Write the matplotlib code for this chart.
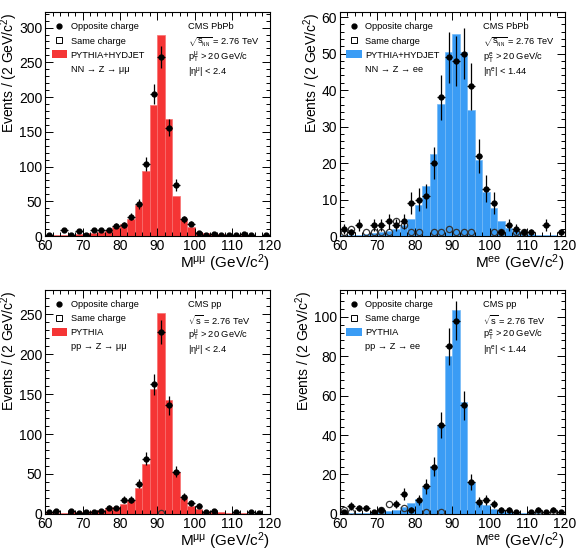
import numpy as np
import matplotlib.pyplot as plt
from matplotlib.lines import Line2D
from matplotlib.patches import Patch
from matplotlib.ticker import MultipleLocator

plt.rcParams['font.family'] = ['Liberation Sans', 'DejaVu Sans']
plt.rcParams['mathtext.fontset'] = 'custom'
plt.rcParams['mathtext.rm'] = 'Liberation Sans'
plt.rcParams['mathtext.it'] = 'Liberation Sans'

# 2 GeV bins from 60 to 120
edges = np.arange(60, 121, 2)
centers = edges[:-1] + 1

# PbPb, Z -> mumu
mc_pbpb_mm = [1, 1, 1.5, 2, 3, 4, 5, 6, 8, 13, 18, 24, 45, 94, 188,
              289, 168, 57, 25, 13, 6, 5, 3, 2.5, 2, 1.5, 1, 1, 0.5, 0.5]
os_pbpb_mm = [1, 0, 8, 2, 7, 2, 9, 9, 9, 15, 16, 28, 46, 104, 205,
              258, 156, 74, 24, 18, 5, 2, 3, 2, 2, 2, 3, 2, 0, 1]
ss_pbpb_mm = [0] * 30

# PbPb, Z -> ee
mc_pbpb_ee = [0.3, 0.3, 0.3, 0.5, 0.7, 1, 1.3, 1.8, 2.9, 4.8, 8.5, 13.7, 22.4, 36.1, 50.5,
              55.4, 50.3, 34.5, 20.8, 12.2, 7.6, 4.0, 2.3, 1.5, 1, 0.6, 0.4, 0.3, 0.2, 0.1]
os_pbpb_ee = [2, 1, 3, 0, 3, 3, 4, 3, 4, 9, 10, 11, 20, 38, 49,
              48, 50, 41, 22, 13, 9, 1, 3, 2, 1, 1, 0, 3, 0, 1]
ss_pbpb_ee = [1, 2, 0, 1, 1, 1, 1, 4, 3, 1, 1, 0, 1, 1, 2,
              1, 1, 1, 0, 0, 1, 1, 0, 1, 1, 0, 0, 0, 0, 0]

# pp, Z -> mumu
mc_pp_mm = [1, 1, 1.5, 2, 2.5, 3, 4, 5, 7, 9, 12, 18, 33, 62, 156,
            251, 143, 52, 20, 10, 6, 4, 3, 2, 1.5, 1, 1, 0.5, 0.5, 0.3]
os_pp_mm = [3, 4, 0, 4, 1, 2, 3, 4, 8, 7, 18, 18, 38, 69, 162,
            228, 136, 53, 21, 14, 10, 3, 4, 0, 0, 3, 0, 2, 1, 0]
ss_pp_mm = [0] * 15 + [1] + [0] * 14

# pp, Z -> ee
mc_pp_ee = [0.3, 0.3, 0.5, 0.6, 0.8, 1.2, 1.5, 2.2, 3.4, 5.5, 7.5, 13.5, 24.3, 45, 80,
            103.4, 57, 16, 6, 4.5, 2.5, 1.5, 1, 0.7, 0.5, 0.4, 0.3, 0.2, 0.2, 0.1]
os_pp_ee = [1, 4, 3, 3, 1, 2, 0, 5, 10, 2, 7, 14, 24, 45, 85,
            98, 55, 16, 6, 7, 5, 2, 2, 1, 0, 1, 2, 1, 2, 1]
ss_pp_ee = [2, 1, 0, 0, 0, 2, 5, 0, 3, 0, 0, 1, 0, 1, 0,
            0, 0, 0, 0, 0, 0, 0, 0, 0, 0, 0, 1, 0, 1, 0]

red = '#f53535'
red_edge = '#f87070'
blue = '#3a9cf5'
blue_edge = '#74b9f7'

panels = [
    dict(mc=mc_pbpb_mm, os=os_pbpb_mm, ss=ss_pbpb_mm, col=red, edge=red_edge, ymax=322, major=50,
         mclabel='PYTHIA+HYDJET', proc='NN → Z → μμ',
         info=['CMS PbPb', r'$\sqrt{s_{_{\mathrm{NN}}}}$ = 2.76 TeV', r'p$_{\mathrm{T}}^{\mathrm{μ}}$ > 20 GeV/c',
               r'|η$^{\mathrm{μ}}$| < 2.4'],
         xlab=r'M$^{\mathrm{μμ}}$ (GeV/c$^{2}$)', pos=[0.0775, 0.577, 0.387, 0.401]),
    dict(mc=mc_pbpb_ee, os=os_pbpb_ee, ss=ss_pbpb_ee, col=blue, edge=blue_edge, ymax=61.3, major=10,
         mclabel='PYTHIA+HYDJET', proc='NN → Z → ee',
         info=['CMS PbPb', r'$\sqrt{s_{_{\mathrm{NN}}}}$ = 2.76 TeV', r'p$_{\mathrm{T}}^{\mathrm{e}}$ > 20 GeV/c',
               r'|η$^{\mathrm{e}}$| < 1.44'],
         xlab=r'M$^{\mathrm{ee}}$ (GeV/c$^{2}$)', pos=[0.585, 0.577, 0.387, 0.401]),
    dict(mc=mc_pp_mm, os=os_pp_mm, ss=ss_pp_mm, col=red, edge=red_edge, ymax=280, major=50,
         mclabel='PYTHIA', proc='pp → Z → μμ',
         info=['CMS pp', r'$\sqrt{\mathrm{s}}$ = 2.76 TeV', r'p$_{\mathrm{T}}^{\mathrm{μ}}$ > 20 GeV/c',
               r'|η$^{\mathrm{μ}}$| < 2.4'],
         xlab=r'M$^{\mathrm{μμ}}$ (GeV/c$^{2}$)', pos=[0.0775, 0.079, 0.387, 0.401]),
    dict(mc=mc_pp_ee, os=os_pp_ee, ss=ss_pp_ee, col=blue, edge=blue_edge, ymax=113.5, major=20,
         mclabel='PYTHIA', proc='pp → Z → ee',
         info=['CMS pp', r'$\sqrt{\mathrm{s}}$ = 2.76 TeV', r'p$_{\mathrm{T}}^{\mathrm{e}}$ > 20 GeV/c',
               r'|η$^{\mathrm{e}}$| < 1.44'],
         xlab=r'M$^{\mathrm{ee}}$ (GeV/c$^{2}$)', pos=[0.585, 0.079, 0.387, 0.401]),
]

fig = plt.figure(figsize=(5.81, 5.58), dpi=100)

for p in panels:
    ax = fig.add_axes(p['pos'])
    ax.bar(centers, p['mc'], width=2, color=p['col'], edgecolor=p['edge'], linewidth=0.5)

    os_arr = np.array(p['os'], dtype=float)
    m = os_arr > 0
    ax.errorbar(centers[m], os_arr[m], yerr=np.sqrt(os_arr[m]), xerr=1, fmt='o', ms=3.5,
                color='black', elinewidth=0.9, capsize=0, zorder=4)

    ss_arr = np.array(p['ss'], dtype=float)
    m2 = ss_arr > 0
    ax.plot(centers[m2], ss_arr[m2], 'o', ms=4.5, mfc='none', mec='#333333', mew=0.9, zorder=3)

    ax.set_xlim(60, 120)
    ax.set_ylim(0, p['ymax'])
    ax.xaxis.set_major_locator(MultipleLocator(10))
    ax.xaxis.set_minor_locator(MultipleLocator(2))
    ax.yaxis.set_major_locator(MultipleLocator(p['major']))
    ax.yaxis.set_minor_locator(MultipleLocator(p['major'] / 5))
    ax.tick_params(which='both', direction='in', top=True, right=True, labelsize=10, width=0.7, pad=2)
    ax.tick_params(which='major', length=6)
    ax.tick_params(which='minor', length=3)
    for s in ax.spines.values():
        s.set_linewidth(0.8)

    ax.set_xlabel(p['xlab'], fontsize=11, loc='right', labelpad=0)
    ax.set_ylabel(r'Events / (2 GeV/c$^{2}$)', fontsize=10, loc='top', labelpad=-1)

    handles = [Line2D([], [], marker='o', color='black', ls='none', ms=3.5),
               Line2D([], [], marker='s', mfc='none', mec='black', mew=0.7, ls='none', ms=4),
               Patch(fc=p['col'], ec='none'),
               Line2D([], [], ls='none')]
    labels = ['Opposite charge', 'Same charge', p['mclabel'], p['proc']]
    ax.legend(handles, labels, loc='upper left', bbox_to_anchor=(0.0, 0.985), frameon=False,
              fontsize=6.7, handlelength=1.7, handleheight=1.0, handletextpad=0.35,
              labelspacing=0.5, borderaxespad=0.3)

    for i, t in enumerate(p['info']):
        ax.text(0.636, 0.935 - i * 0.068, t, transform=ax.transAxes, fontsize=6.7, va='center')

fig.savefig('out.png', dpi=100)
